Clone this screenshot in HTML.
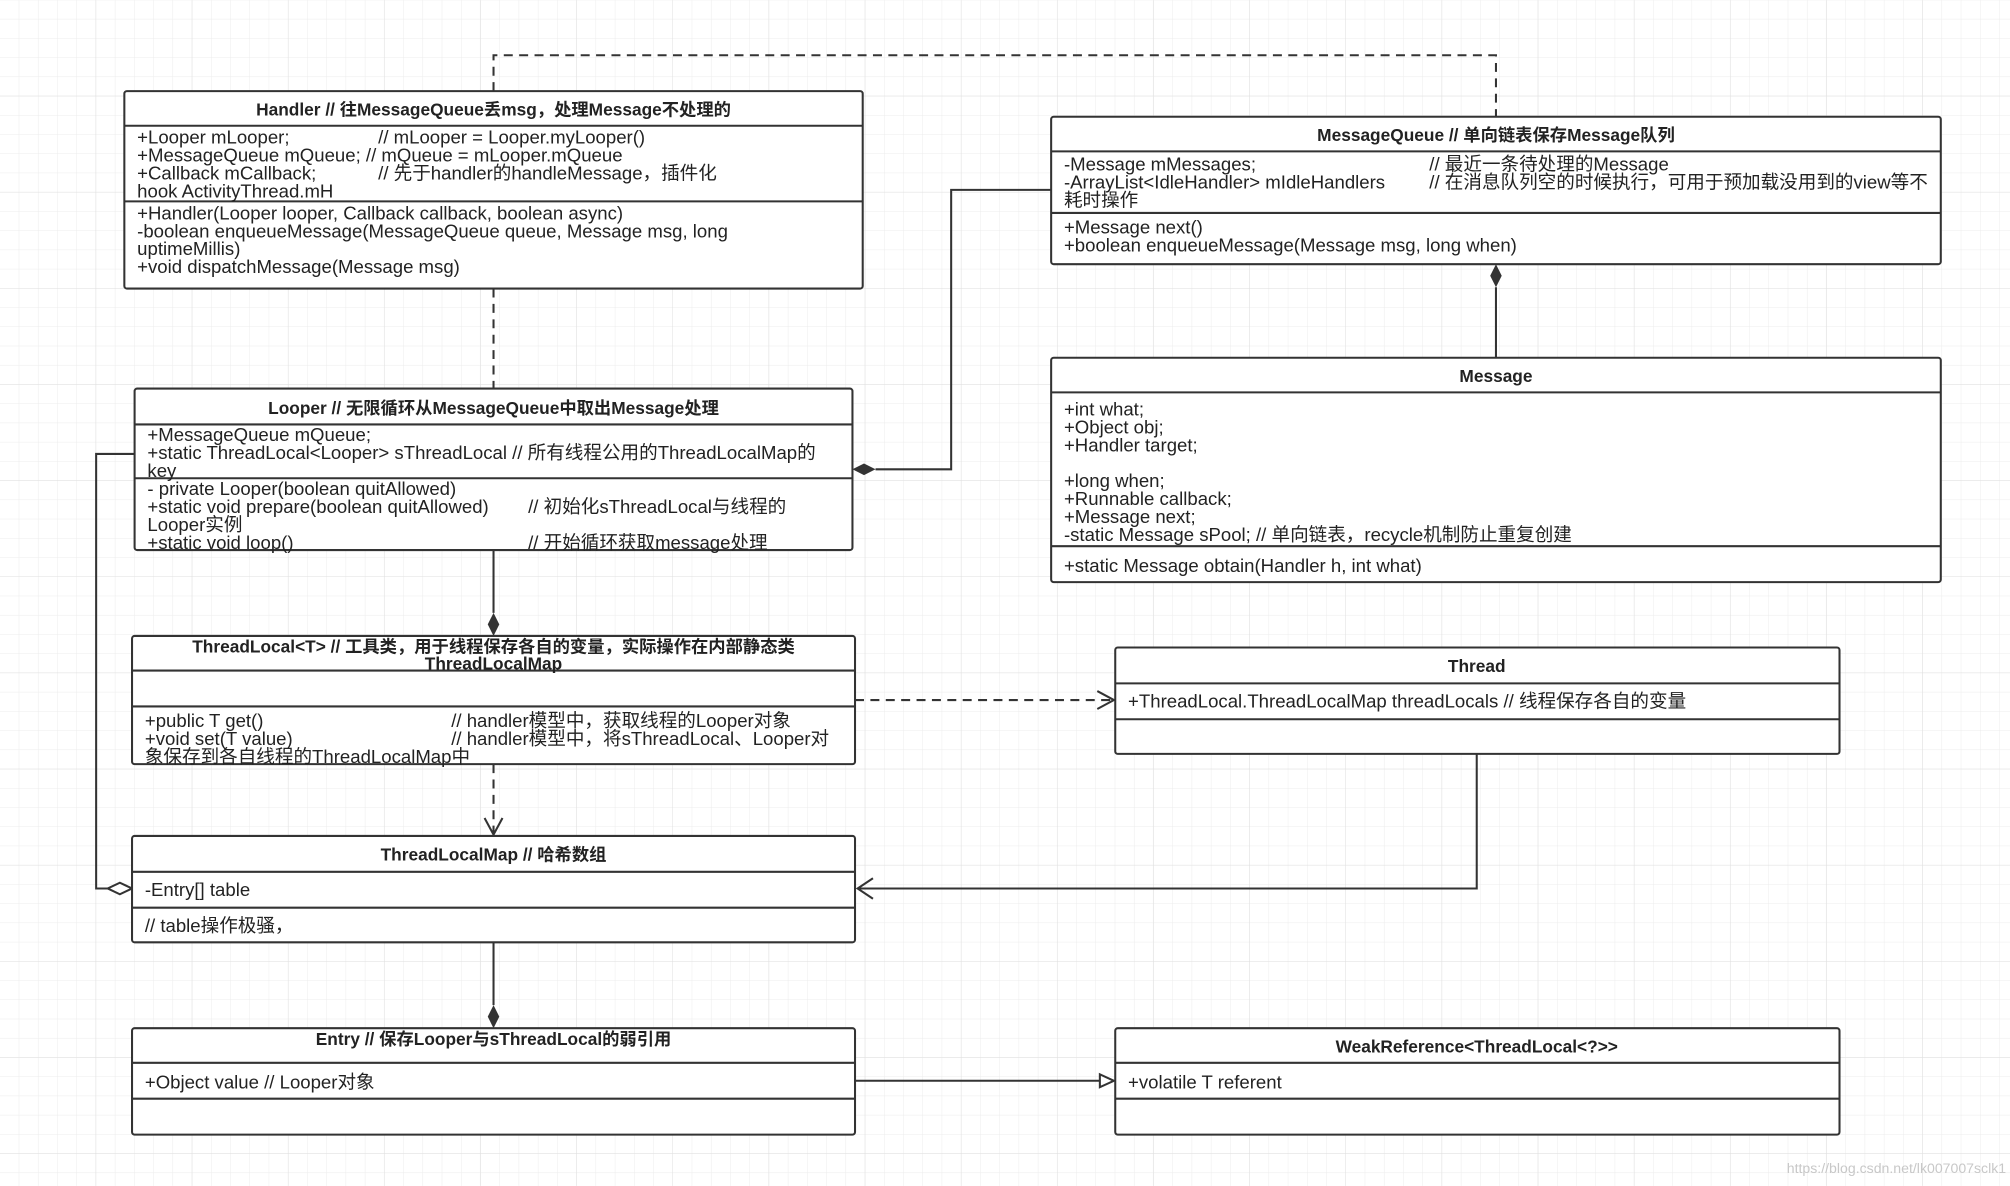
<!DOCTYPE html>
<html><head><meta charset="utf-8"><style>
html,body{margin:0;padding:0;background:#fff;}
svg{display:block;}
text{font-family:"Liberation Sans","Noto Sans CJK SC",sans-serif;font-size:14.5px;fill:#222;}
.t{font-weight:bold;font-size:13.5px;text-anchor:middle;}
.b{fill:#fff;stroke:#333;stroke-width:1.6;}
.l{stroke:#333;stroke-width:1.6;fill:none;}
.d{stroke:#333;stroke-width:1.6;fill:none;stroke-dasharray:7,5;}
</style></head><body>
<svg width="2010" height="1186" viewBox="0 0 1568 925" xmlns="http://www.w3.org/2000/svg">
<defs>
<pattern id="g" width="15" height="15" patternUnits="userSpaceOnUse">
<path d="M15 0V15H0" fill="none" stroke="#ececec" stroke-width="0.8"/></pattern>
<pattern id="G" width="75" height="75" patternUnits="userSpaceOnUse">
<path d="M75 0V75H0" fill="none" stroke="#e0e0e0" stroke-width="0.8"/></pattern>
</defs>
<rect width="1568" height="925" fill="url(#g)"/>
<rect width="1568" height="925" fill="url(#G)"/>

<!-- connectors -->
<path class="d" d="M385 71V43H1167V91"/>
<path class="d" d="M385 225V303"/>
<path class="l" d="M820 148H742V366H683"/>
<polygon points="665,366 674,361.5 683,366 674,370.5" fill="#333"/>
<path class="l" d="M1167 279V224"/>
<polygon points="1167,206 1171.5,215 1167,224 1162.5,215" fill="#333"/>
<path class="l" d="M385 429V478"/>
<polygon points="385,496 380.5,487 385,478 389.5,487" fill="#333"/>
<path class="d" d="M667 546H868"/>
<path class="l" d="M856 539L869 546L856 553"/>
<path class="d" d="M385 596V651"/>
<path class="l" d="M378 638L385 651L392 638"/>
<path class="l" d="M105 354H75V693H84"/>
<polygon points="103,693 93.5,688.5 84,693 93.5,697.5" fill="#fff" stroke="#333" stroke-width="1.6"/>
<path class="l" d="M1152 588V693H669"/>
<path class="l" d="M681 685L669 693L681 701"/>
<path class="l" d="M385 735V784"/>
<polygon points="385,802 380.5,793 385,784 389.5,793" fill="#333"/>
<path class="l" d="M667 843H858"/>
<polygon points="869,843 858,838 858,848" fill="#fff" stroke="#333" stroke-width="1.6"/>

<!-- Handler -->
<rect class="b" x="97" y="71" width="576" height="154" rx="2"/>
<path class="l" d="M97 98H673M97 157H673"/>
<text class="t" x="385" y="90">Handler  // 往MessageQueue丢msg，处理Message不处理的</text>
<text x="107" y="112">+Looper mLooper;</text><text x="295" y="112">// mLooper = Looper.myLooper()</text>
<text x="107" y="126">+MessageQueue mQueue;  // mQueue = mLooper.mQueue</text>
<text x="107" y="140">+Callback mCallback;</text><text x="295" y="140">// 先于handler的handleMessage，插件化</text>
<text x="107" y="154">hook ActivityThread.mH</text>
<text x="107" y="171">+Handler(Looper looper, Callback callback, boolean async)</text>
<text x="107" y="185">-boolean enqueueMessage(MessageQueue queue, Message msg, long</text>
<text x="107" y="199">uptimeMillis)</text>
<text x="107" y="213">+void dispatchMessage(Message msg)</text>

<!-- MessageQueue -->
<rect class="b" x="820" y="91" width="694" height="115" rx="2"/>
<path class="l" d="M820 118H1514M820 166H1514"/>
<text class="t" x="1167" y="110">MessageQueue  // 单向链表保存Message队列</text>
<text x="830" y="133">-Message mMessages;</text><text x="1115" y="133">// 最近一条待处理的Message</text>
<text x="830" y="147">-ArrayList&lt;IdleHandler&gt; mIdleHandlers</text><text x="1115" y="147">// 在消息队列空的时候执行，可用于预加载没用到的view等不</text>
<text x="830" y="161">耗时操作</text>
<text x="830" y="182">+Message next()</text>
<text x="830" y="196">+boolean enqueueMessage(Message msg, long when)</text>

<!-- Message -->
<rect class="b" x="820" y="279" width="694" height="175" rx="2"/>
<path class="l" d="M820 306H1514M820 426H1514"/>
<text class="t" x="1167" y="298">Message</text>
<text x="830" y="324">+int what;</text>
<text x="830" y="338">+Object obj;</text>
<text x="830" y="352">+Handler target;</text>
<text x="830" y="380">+long when;</text>
<text x="830" y="394">+Runnable callback;</text>
<text x="830" y="408">+Message next;</text>
<text x="830" y="422">-static Message sPool;  // 单向链表，recycle机制防止重复创建</text>
<text x="830" y="446">+static Message obtain(Handler h, int what)</text>

<!-- Looper -->
<rect class="b" x="105" y="303" width="560" height="126" rx="2"/>
<path class="l" d="M105 331H665M105 373H665"/>
<text class="t" x="385" y="323">Looper // 无限循环从MessageQueue中取出Message处理</text>
<text x="115" y="344">+MessageQueue mQueue;</text>
<text x="115" y="358">+static ThreadLocal&lt;Looper&gt; sThreadLocal // 所有线程公用的ThreadLocalMap的</text>
<text x="115" y="372">key</text>
<text x="115" y="386">- private Looper(boolean quitAllowed)</text>
<text x="115" y="400">+static void prepare(boolean quitAllowed)</text><text x="412" y="400">// 初始化sThreadLocal与线程的</text>
<text x="115" y="414">Looper实例</text>
<text x="115" y="428">+static void loop()</text><text x="412" y="428">// 开始循环获取message处理</text>

<!-- ThreadLocal -->
<rect class="b" x="103" y="496" width="564" height="100" rx="2"/>
<path class="l" d="M103 523H667M103 551H667"/>
<text class="t" x="385" y="509">ThreadLocal&lt;T&gt;  // 工具类，用于线程保存各自的变量，实际操作在内部静态类</text>
<text class="t" x="385" y="522">ThreadLocalMap</text>
<text x="113" y="567">+public T get()</text><text x="352" y="567">// handler模型中，获取线程的Looper对象</text>
<text x="113" y="581">+void set(T value)</text><text x="352" y="581">// handler模型中，将sThreadLocal、Looper对</text>
<text x="113" y="595">象保存到各自线程的ThreadLocalMap中</text>

<!-- Thread -->
<rect class="b" x="870" y="505" width="565" height="83" rx="2"/>
<path class="l" d="M870 533H1435M870 561H1435"/>
<text class="t" x="1152" y="524">Thread</text>
<text x="880" y="552">+ThreadLocal.ThreadLocalMap threadLocals  // 线程保存各自的变量</text>

<!-- ThreadLocalMap -->
<rect class="b" x="103" y="652" width="564" height="83" rx="2"/>
<path class="l" d="M103 680H667M103 708H667"/>
<text class="t" x="385" y="671">ThreadLocalMap  // 哈希数组</text>
<text x="113" y="699">-Entry[] table</text>
<text x="113" y="727">// table操作极骚，</text>

<!-- Entry -->
<rect class="b" x="103" y="802" width="564" height="83" rx="2"/>
<path class="l" d="M103 829H667M103 857H667"/>
<text class="t" x="385" y="815">Entry // 保存Looper与sThreadLocal的弱引用</text>
<text x="113" y="849">+Object value  // Looper对象</text>

<!-- WeakReference -->
<rect class="b" x="870" y="802" width="565" height="83" rx="2"/>
<path class="l" d="M870 829H1435M870 857H1435"/>
<text class="t" x="1152" y="821">WeakReference&lt;ThreadLocal&lt;?&gt;&gt;</text>
<text x="880" y="849">+volatile T referent</text>

<text x="1565" y="915" style="font-size:11px;fill:#c8c8c8;text-anchor:end">https://blog.csdn.net/lk007007sclk1</text>
</svg>
</body></html>
